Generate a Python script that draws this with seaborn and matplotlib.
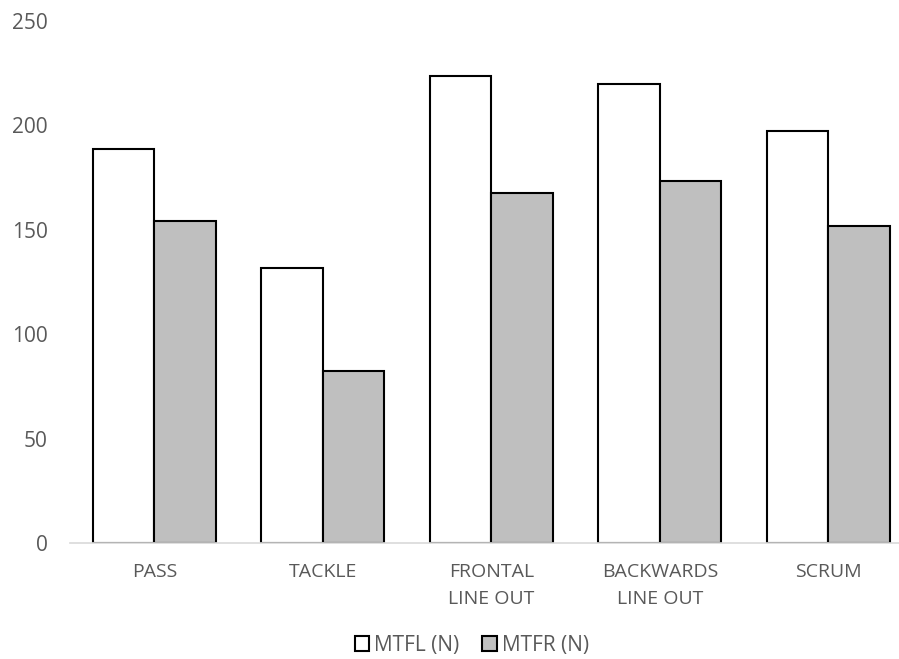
import matplotlib
matplotlib.use("Agg")
import matplotlib.pyplot as plt
import seaborn as sns
import pandas as pd
from matplotlib.patches import Patch

categories = ["PASS", "TACKLE", "FRONTAL\nLINE OUT", "BACKWARDS\nLINE OUT", "SCRUM"]
mtfl = [188.5, 131.5, 223.8, 220.0, 197.3]
mtfr = [154.3, 82.4, 167.5, 173.5, 152.0]
series = ["MTFL (N)", "MTFR (N)"]
colors = ["#FFFFFF", "#BFBFBF"]

df = pd.DataFrame({
    "category": categories * 2,
    "value": mtfl + mtfr,
    "series": [series[0]] * len(categories) + [series[1]] * len(categories),
})

sns.set_theme(style="white")
plt.rcParams["font.family"] = ["Open Sans", "DejaVu Sans"]
text_color = "#595959"

fig = plt.figure(figsize=(8.99, 6.59), dpi=100)
ax = fig.add_axes([0.078, 0.176, 0.922, 0.792])

sns.barplot(data=df, x="category", y="value", hue="series", order=categories,
            hue_order=series, palette=colors, width=0.73, edgecolor="black",
            linewidth=1.5, ax=ax, legend=False, saturation=1)

ax.set_ylim(0, 250)
ax.set_xlim(-0.5, 4.42)
ax.set_yticks(range(0, 251, 50))
ax.set_xlabel("")
ax.set_ylabel("")
for s in ["top", "right", "left"]:
    ax.spines[s].set_visible(False)
ax.spines["bottom"].set_color("#D9D9D9")
ax.spines["bottom"].set_linewidth(1.2)
ax.tick_params(axis="y", length=0, labelsize=15, colors=text_color, pad=16)
ax.tick_params(axis="x", length=0, labelsize=14, colors=text_color, pad=14.5)
for lbl in ax.get_xticklabels():
    lbl.set_linespacing(1.6)

handles = [Patch(facecolor=c, edgecolor="black", linewidth=1.5) for c in colors]
fig.legend(handles, series, loc="center", bbox_to_anchor=(0.525, 0.021), ncol=2,
           frameon=False, fontsize=15, labelcolor=text_color, handlelength=0.7,
           handleheight=0.7, handletextpad=0.25, columnspacing=1.1,
           borderpad=0, borderaxespad=0)

fig.savefig("out.png", dpi=100)
